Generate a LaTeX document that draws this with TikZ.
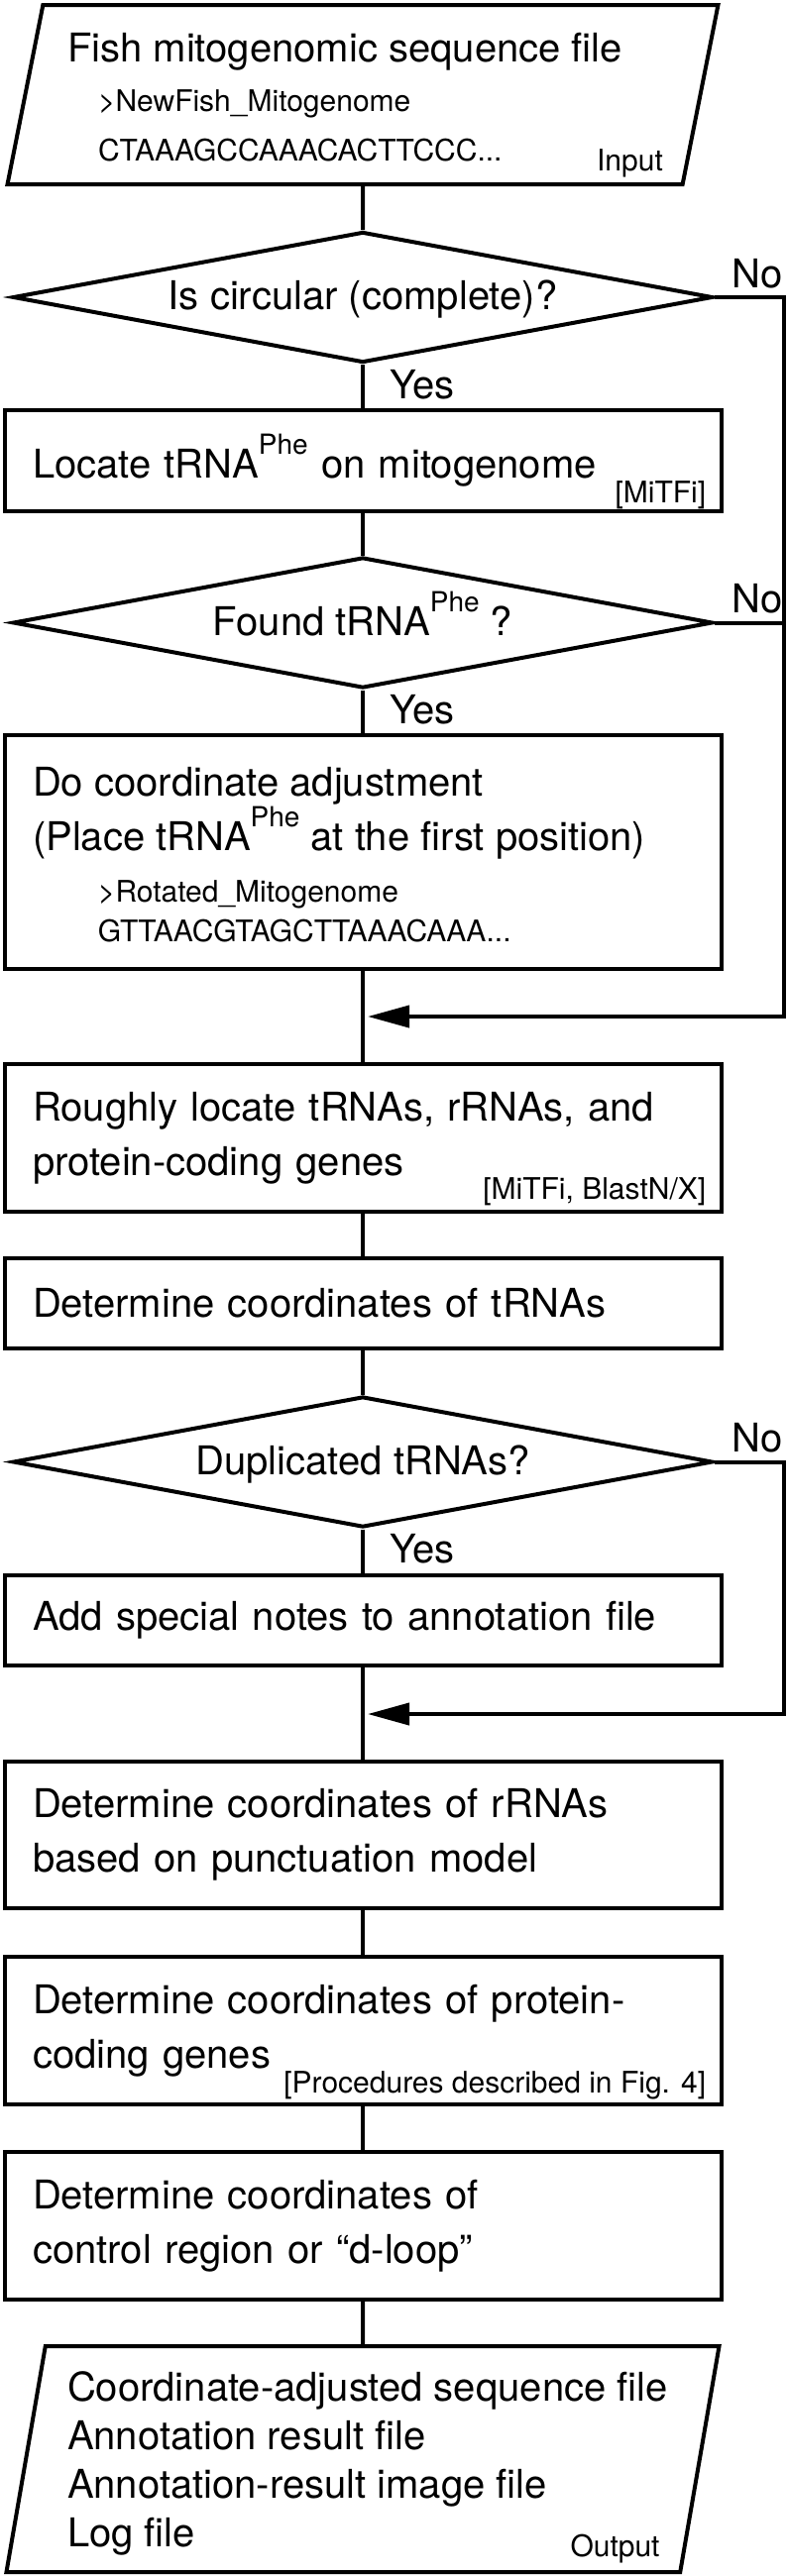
\documentclass[tikz,border=0pt]{standalone}
\usepackage{fontspec}
\setmainfont{TeX Gyre Heros}
\usetikzlibrary{shapes.geometric,arrows.meta}
\newcommand\bigtext{\fontsize{40}{55}\selectfont}
\newcommand\smalltext{\fontsize{30}{40}\selectfont}
\newcommand\phe{\raisebox{24pt}{\fontsize{28}{28}\selectfont Phe}}
\newcommand\row[1]{\hbox to\hsize{#1\hss}}
\begin{document}
\begin{tikzpicture}[x=1pt, y=-1pt, line width=4pt, >={Triangle[length=42pt,width=22pt]}]

		\tikzset{box/.style={draw, rectangle, inner sep=0pt, minimum width=723pt, text width=666pt, align=left, font=\bigtext},
			block/.style={draw, rectangle, inner sep=0pt, minimum width=723pt, font=\bigtext},
			io/.style={draw, trapezium, trapezium stretches=true, inner sep=0pt, font=\bigtext},
			test/.style={draw, diamond, aspect=5.3, inner sep=0pt, minimum width=706pt, minimum height=132pt, text height=29pt, text depth=4pt, font=\bigtext},
			tag/.style={anchor=base east, font=\smalltext},
			answer/.style={anchor=base west, font=\bigtext}}

		\useasboundingbox (0,0) rectangle (795,2600);

		\node[io, trapezium left angle=76.3, trapezium right angle=103.7, minimum width=724pt, minimum height=181pt] (input) at (366,95.5) {\vbox{\hsize=596pt\lineskiplimit=-100pt\baselineskip=50pt\vskip6pt\relax
			\row{Fish mitogenomic sequence file}
			\row{\smalltext\hspace*{31pt}>NewFish\_Mitogenome}
			\row{\smalltext\hspace*{31pt}CTAAAGCCAAACACTTCCC...}}};
		\node[tag] (inputtag) at ([xshift=-16pt,yshift=16pt]input.bottom right corner) {Input};
		\node[test] (circ) at (366,300) {Is circular (complete)?};
		\node[box, minimum height=102pt] (locate) at (366,465) {Locate tRNA\phe\ on mitogenome};
		\node[tag] (locatetag) at ([xshift=-12pt,yshift=11pt]locate.south east) {[MiTFi]};
		\node[test] (found) at (366,628.5) {Found tRNA\phe\ ?};
		\node[block, minimum height=236pt] (adjust) at (366,860) {\vbox{\hsize=666pt\lineskiplimit=-100pt\baselineskip=55pt\vskip6pt\relax
			\row{Do coordinate adjustment}
			\row{(Place tRNA\phe\ at the first position)}
			\baselineskip=52pt\relax\row{\smalltext\hspace*{66pt}>Rotated\_Mitogenome}
			\baselineskip=40pt\relax\row{\smalltext\hspace*{66pt}GTTAACGTAGCTTAAACAAA...}}};
		\node[box, minimum height=149pt] (rough) at (366,1148.5) {Roughly locate tRNAs, rRNAs, and\\protein-coding genes};
		\node[tag] (roughtag) at ([xshift=-12pt,yshift=15pt]rough.south east) {[MiTFi, BlastN/X]};
		\node[box, minimum height=91pt] (trna) at (366,1315.5) {Determine coordinates of tRNAs};
		\node[test] (dup) at (366,1475.5) {Duplicated tRNAs?};
		\node[box, minimum height=91pt] (notes) at (366,1635.5) {Add special notes to annotation file};
		\node[box, minimum height=148pt] (rrna) at (366,1852) {Determine coordinates of rRNAs\\based on punctuation model};
		\node[box, minimum height=149pt] (pcg) at (366,2049.5) {Determine coordinates of protein-\\coding genes};
		\node[tag] (pcgtag) at ([xshift=-12pt,yshift=14pt]pcg.south east) {[Procedures described in Fig. 4]};
		\node[box, minimum height=149pt] (dloop) at (366,2246.5) {Determine coordinates of\\control region or “d-loop”};
		\node[io, trapezium left angle=79.3, trapezium right angle=100.7, minimum width=726pt, minimum height=228pt] (output) at (366,2482) {\vbox{\hsize=596pt\lineskiplimit=-100pt\baselineskip=49pt\vskip8pt\relax
			\row{Coordinate-adjusted sequence file}
			\row{Annotation result file}
			\row{Annotation-result image file}
			\row{Log file}}};
		\node[tag] (outputtag) at ([xshift=-17pt,yshift=18pt]output.bottom right corner) {Output};

		\foreach \t in {circ,found,dup}{
			\node[answer] (\t-yes) at ([xshift=22pt,yshift=-34pt]\t.south) {Yes};
			\node[answer] (\t-no) at ([xshift=12pt,yshift=10pt]\t.east) {No};
		}

		\foreach \a/\b in {input/circ,circ/locate,locate/found,found/adjust,adjust/rough,rough/trna,trna/dup,dup/notes,notes/rrna,rrna/pcg,pcg/dloop,dloop/output}
		\draw (\a) -- (\b);

		\coordinate (merge1) at (371,1026);
		\coordinate (merge2) at (371,1730);
		\draw[->] (circ.east) -| (791,1026) -- (merge1);
		\draw (found.east) -- ++(70,0);
		\draw[->] (dup.east) -| (791,1730) -- (merge2);
		\end{tikzpicture}
\end{document}
